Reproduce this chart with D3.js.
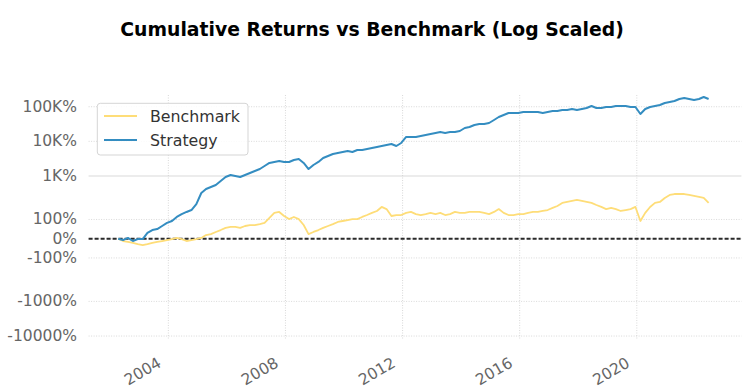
<!DOCTYPE html>
<html>
<head>
<meta charset="utf-8">
<script src="https://cdn.jsdelivr.net/npm/d3@7.9.0/dist/d3.min.js"></script>
<style>
  html, body { margin: 0; padding: 0; background: #fff; }
  svg { display: block; font-family: "DejaVu Sans", sans-serif; }
</style>
</head>
<body>
<svg id="chart" width="749" height="392"></svg>
<script>
// Series: cumulative returns (1 = 100%), one reading every 2 months from Apr 2002
const startDate = new Date(2002, 3, 15);
const stepMonths = 2;

const benchmark = [
  0.00, -0.12, -0.17, -0.22, -0.28, -0.33, -0.28, -0.22, -0.17, -0.12,
  -0.07, -0.02, 0.04, -0.02, -0.12, -0.07, -0.02, 0.04, 0.19, 0.24,
  0.35, 0.45, 0.56, 0.61, 0.61, 0.56, 0.66, 0.71, 0.71, 0.76,
  0.82, 1.08, 1.34, 1.39, 1.18, 1.02, 1.13, 1.02, 0.71, 0.24,
  0.35, 0.45, 0.56, 0.66, 0.76, 0.87, 0.92, 0.97, 1.02, 1.02,
  1.13, 1.23, 1.34, 1.44, 1.65, 1.54, 1.18, 1.23, 1.23, 1.34,
  1.39, 1.28, 1.23, 1.28, 1.34, 1.28, 1.34, 1.23, 1.28, 1.39,
  1.34, 1.34, 1.39, 1.39, 1.39, 1.34, 1.28, 1.39, 1.54, 1.34,
  1.23, 1.23, 1.28, 1.28, 1.34, 1.39, 1.39, 1.44, 1.49, 1.60,
  1.70, 1.86, 1.91, 1.96, 2.03, 1.96, 1.91, 1.86, 1.75, 1.65,
  1.54, 1.60, 1.54, 1.44, 1.49, 1.54, 1.65, 0.92, 1.34, 1.65,
  1.86, 1.91, 2.32, 2.83, 3.02, 3.02, 3.02, 2.83, 2.65, 2.48,
  2.32, 1.86
];

const strategy = [
  0.00, -0.07, 0.04, -0.12, -0.02, -0.02, 0.30, 0.45, 0.50, 0.66,
  0.82, 0.92, 1.13, 1.28, 1.39, 1.49, 1.80, 3.23, 4.21, 4.82,
  5.50, 7.17, 9.36, 10.7, 10.0, 9.36, 10.7, 12.2, 13.9, 15.9,
  19.4, 23.8, 25.4, 27.1, 25.4, 25.4, 29.0, 31.0, 23.8, 15.9,
  20.8, 25.4, 33.1, 37.8, 43.2, 46.1, 49.4, 52.7, 49.4, 56.3,
  56.3, 60.2, 64.4, 68.8, 73.4, 78.5, 83.9, 73.4, 89.8, 134,
  134, 134, 143, 153, 163, 175, 186, 175, 186, 186,
  199, 243, 260, 297, 317, 317, 339, 414, 505, 577,
  659, 659, 659, 704, 704, 704, 704, 659, 704, 753,
  753, 804, 804, 859, 804, 859, 919, 1050, 919, 919,
  982, 982, 1050, 1050, 1050, 982, 982, 617, 859, 982,
  1050, 1122, 1280, 1368, 1462, 1671, 1786, 1671, 1564, 1671,
  1909, 1671
];

const seriesNames = ["Benchmark", "Strategy"];
const seriesColors = ["#fedd78", "#348dc1"];
const yTickValues = [1000, 100, 10, 1, 0, -1, -10, -100];
const yTickLabels = ["100K%", "10K%", "1K%", "100%", "0%", "-100%", "-1000%", "-10000%"];

const dates = benchmark.map((_, i) => d3.timeMonth.offset(startDate, i * stepMonths));

// matplotlib style symlog (linthresh 2, linscale 1, base 10)
const linthresh = 2, linscaleAdj = 1 / (1 - 1 / 10);
function symlog(v) {
  const a = Math.abs(v);
  if (a <= linthresh) return v * linscaleAdj;
  return Math.sign(v) * linthresh * (linscaleAdj + Math.log10(a / linthresh));
}

const plot = { left: 88.6, right: 741.4, top: 95, bottom: 340 };
const zeroY = 238.7, pxPerUnit = 17.32;

const svg = d3.select("#chart");

const x = d3.scaleTime()
  .domain([new Date(2001, 3, 11), new Date(2023, 6, 29)])
  .range([plot.left, plot.right]);

const yLin = d3.scaleLinear()
  .domain([(zeroY - plot.bottom) / pxPerUnit, (zeroY - plot.top) / pxPerUnit])
  .range([plot.bottom, plot.top]);
const y = v => yLin(symlog(v));

// title
svg.append("text")
  .attr("x", 372).attr("y", 36)
  .attr("text-anchor", "middle")
  .attr("font-size", 18.8).attr("font-weight", "bold")
  .attr("fill", "#000")
  .text("Cumulative Returns vs Benchmark (Log Scaled)");

// grid
const grid = svg.append("g");
yTickValues.forEach(v => {
  grid.append("line")
    .attr("x1", plot.left).attr("x2", plot.right)
    .attr("y1", y(v)).attr("y2", y(v))
    .attr("stroke", "#cfcfcf").attr("stroke-width", 0.8)
    .attr("stroke-dasharray", v === 10 ? null : "1,1.5");
});
const xTicks = x.ticks(d3.timeYear.every(4)).filter(d => d.getFullYear() >= 2004 && d.getFullYear() <= 2020);
xTicks.forEach(d => {
  grid.append("line")
    .attr("x1", x(d)).attr("x2", x(d))
    .attr("y1", plot.top).attr("y2", plot.bottom)
    .attr("stroke", "#cfcfcf").attr("stroke-width", 0.8)
    .attr("stroke-dasharray", "1,1.5");
});

// y tick labels
yTickValues.forEach((v, i) => {
  svg.append("text")
    .attr("x", 77).attr("y", y(v))
    .attr("text-anchor", "end")
    .attr("dominant-baseline", "central")
    .attr("font-size", 15.5).attr("fill", "#666")
    .text(yTickLabels[i]);
});

// x tick labels, rotated
xTicks.forEach(d => {
  svg.append("text")
    .attr("transform", `translate(${x(d) - 6},${plot.bottom + 26}) rotate(-30)`)
    .attr("text-anchor", "end")
    .attr("font-size", 15.5).attr("fill", "#666")
    .text(d3.timeFormat("%Y")(d));
});

// zero line
svg.append("line")
  .attr("x1", plot.left).attr("x2", plot.right)
  .attr("y1", y(0)).attr("y2", y(0))
  .attr("stroke", "#2a2a2a").attr("stroke-width", 2)
  .attr("stroke-dasharray", "4,2");

// series lines
const line = d3.line()
  .x((d, i) => x(dates[i]))
  .y(d => y(d));

[benchmark, strategy].forEach((s, k) => {
  svg.append("path")
    .datum(s)
    .attr("d", line)
    .attr("fill", "none")
    .attr("stroke", seriesColors[k])
    .attr("stroke-width", k === 0 ? 1.8 : 2)
    .attr("stroke-linejoin", "round");
});

// legend
const lg = svg.append("g");
lg.append("rect")
  .attr("x", 97.3).attr("y", 103.3)
  .attr("width", 150.7).attr("height", 51.7)
  .attr("rx", 3)
  .attr("fill", "#fff").attr("fill-opacity", 0.85)
  .attr("stroke", "#d5d5d5");
seriesNames.forEach((name, i) => {
  const ly = 116 + i * 24;
  lg.append("line")
    .attr("x1", 104).attr("x2", 137)
    .attr("y1", ly).attr("y2", ly)
    .attr("stroke", seriesColors[i]).attr("stroke-width", 2);
  lg.append("text")
    .attr("x", 150).attr("y", ly)
    .attr("dominant-baseline", "central")
    .attr("font-size", 15.8).attr("fill", "#333")
    .text(name);
});
</script>
</body>
</html>
